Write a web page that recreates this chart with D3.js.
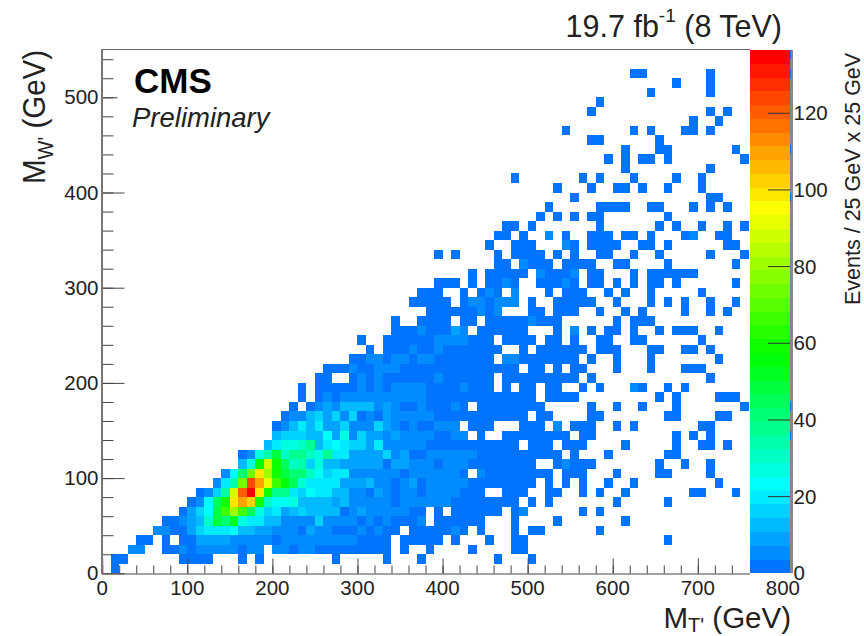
<!DOCTYPE html>
<html><head><meta charset="utf-8">
<script src="https://cdn.jsdelivr.net/npm/d3@7"></script>
<style>
html,body{margin:0;padding:0;background:#fff;overflow:hidden}
svg{display:block}
text{font-family:"Liberation Sans",Arial,sans-serif;fill:#222}
</style></head><body>
<svg id="c" width="864" height="636"></svg>
<script>
// Bin width of both axes, in GeV
const binGeV = 10;
const xMajor = [0,100,200,300,400,500,600,700,800];
const yMajor = [0,100,200,300,400,500];
const zMajor = [0,20,40,60,80,100,120];
const zMax = 136.5;
const zLevels = 38;
const colorStops = ["#0073ff","#00ffff","#00ff00","#ffff00","#ff0000"];
const colorStopValues = [0,21.5,56.5,96,136.5];

// Event counts, row index = M_W' bin; each run = [first M_T' bin, counts...]
const eventRuns = [
/*0*/[[1,2]],
/*1*/[[1,2,3],[9,2,2,2,2],[16,2],[18,2],[27,2],[33,2],[37,2],[46,2],[50,2]],
/*2*/[[3,7,4],[7,2,2,4,2,5,5,4,6,6,2,4,4,0,4,4,2,4,4,2,2],[27,2,2,2,2,2,2,2],[35,2],[38,2],[43,2],[48,2,2]],
/*3*/[[4,2,3],[7,2],[9,3,3,8,9,9,9,6,6,6,6,6,3,4,4,4,4,5,4],[27,4,4,4,2,3,2,2],[35,3,3,2,2,2],[41,2],[45,2],[48,2,2],[66,2]],
/*4*/[[6,5,5,3,3,10,15,18,18,18,22,11,11,9,10,7,5,7,3,8,6,6],[27,3,2,2,6,2,7,2,2],[36,2,2,2,3,2,4,2],[44,2],[48,2],[50,2,2],[58,2]],
/*5*/[[7,3,3,5,8,13,30,50,42,52,28,20,20,13,12,5,5,7,7,16,4],[27,7,4,4,2,4,2,4,2,2,2,4],[39,2,2,2,2,2,2],[48,2],[53,2],[61,2]],
/*6*/[[9,3,9,15,22,48,68,80,68,45,27,17,18,10,13,17,13,13,13],[27,12,3,5,8,4,4,4,4,4,2,2],[39,2],[41,2,3,2,2,3,3],[48,2,5],[56,2],[58,2]],
/*7*/[[10,3,6,22,45,60,100,110,104,58,30,22,22,26,13,12,12,12],[27,8,11,7,7,7,7,7,2,5,5,6,4,4,4,2,2,2,2,2,2,2,2],[50,2],[52,2],[60,2],[66,2]],
/*8*/[[11,3,4,16,35,88,122,135,97,58,38,36,20,15,25,19,19],[27,14,11,6,6,2,9,6,3,7,7,3,4,4,4,4,2,2,2],[47,2,2,2],[52,2,2],[56,2],[58,2],[61,2],[69,2,2],[74,2]],
/*9*/[[13,5,18,33,72,125,108,90,65,55,45,27,20,19,19],[27,20,10,8,8,12,6,6,3,6,9,2,5,4,4,4,4,2,3,2,2,2,2,2,2],[52,2],[54,2],[56,2],[59,2],[62,2],[72,2]],
/*10*/[[14,5,25,42,72,98,82,58,48,42,42,32,22,16],[27,18,18,7,5,5,5,5,5,2,4,4,4,4,4,4,2],[44,4,2,2,2,3,2,2,2,2],[54,2,2,2],[60,2],[65,2,2],[71,2]],
/*11*/[[16,14,27,55,88,58,45,32,35,17,28,14],[27,14,9,9,8,8,8,3,9,9,6,6,6,2,5,5,5,2,2,2,2,3,2,2,2],[53,2,5,2,2,2],[65,2],[68,2],[71,2]],
/*12*/[[16,3,4,27,34,50,30,38,37,32,28,38],[27,20,19,9,9,9,9,15,6,9,2,3,6,6,6,6,5,5],[44,2,2,2,2,2,2,2,2,2,2],[55,2],[59,2],[66,2,2]],
/*13*/[[19,11,21,26,27,30,37,14,20],[27,23,19,16,16,10,18,6,7,5,5,5,3,2,3,2,2,3,2,2,2,2,3],[50,3,2,2],[54,2,2,2],[61,2],[67,2],[70,2,2],[73,2]],
/*14*/[[20,11,17,17,17,13,13,25],[27,9,27,7,17,9,8,6,8,5,4,4,5,2,3,6,6],[44,2],[47,3,3,2,2,2,2,2,2],[56,2,2],[67,2],[69,2],[71,2],[80,2]],
/*15*/[[20,3,5,14,20,13,18,10],[27,8,17,6,6,6,17,8,6,2,5,3,2,6,4,4],[43,2,2,3],[49,2,2,2],[53,6],[55,2,2,2],[60,2],[62,2],[70,2,2]],
/*16*/[[21,3,6,6,13,17,10],[27,16,7,17,3,7,3,8,5,5,5,4,5,3,2,3,2,3,3,3,3,3,3,3],[51,2,2],[57,2,2],[66,2,2],[72,2,2]],
/*17*/[[22,3,0,2,6,9],[27,7,12,12,12,12,5,9,4,3,3,5,2,2,3,6,2],[44,2,2,2,2,3,2,2,2],[57,2],[60,2],[63,2],[67,2],[75,2],[80,2]],
/*18*/[[23,2,0,2,5],[27,2,7,7,4,4,4,4,7,7,7,7,2,3,2,2,2,2,2,3,2,3,2,2,2],[52,2,2,2,2],[65,2],[67,2],[72,2,2,2]],
/*19*/[[23,2,0,2,3],[27,2,2,2,5,3,4,3,6,6,6,6,3,3,2,3,5,3,2,3],[47,2],[49,2,2],[52,2,2],[56,2],[58,2],[62,4,2],[66,2],[68,2]],
/*20*/[[25,2,2],[29,2,4,3,7,3,3,2,3,2,2,6,3,2,3,3,3,2],[47,2,2,2,2,2,2,2,2,2],[57,2],[71,2]],
/*21*/[[26,3,2,3,4,2,2,4,4,6,3,3,3,2,3,2,3,2,3,2,2,2,2,3],[50,3,2],[53,2],[55,2,2],[60,2],[64,2],[68,2,2,2]],
/*22*/[[29,2,3,4,4,3,4,4,3,4,5,2,2,2,2,2,2,3],[47,4,4,2,2,2,2,2,2,2],[57,2],[60,2],[64,2],[72,2]],
/*23*/[[31,2],[33,2,2,3,6,3,2,4,3,2,2,3,2,2,3],[49,2],[51,2,2,2,2,2,2],[58,2,2,2],[64,2,2],[68,2,2],[71,2]],
/*24*/[[30,2],[33,2,2,2,2,2,2,4,4,4,4,2,2,2],[47,2,2,2,2],[52,2,3],[55,2],[58,2,2],[62,2,2],[70,2]],
/*25*/[[34,2,2,2,5,2,2,2,8,5],[44,2,2,2,2,3,2],[53,2],[55,5],[57,2],[59,2,2],[62,2],[65,2],[67,2,2,2],[72,2]],
/*26*/[[34,2],[37,2,2,2,2],[42,2,2],[45,2,2,2,2,2,6,2,2,2],[60,2],[62,2,2,2]],
/*27*/[[38,2,2,2,3,2,2,5,2,5],[50,3,2],[53,2,2,2],[58,2],[61,2],[63,2],[68,2],[71,2],[73,2]],
/*28*/[[36,2,2,2,2,2],[42,2,5,5,2,6,6,5],[50,2],[53,2,2,2,2,2],[60,2],[64,2],[66,2],[68,2],[71,2],[74,2]],
/*29*/[[37,2,2,2],[42,2],[44,2,5,2],[48,5],[52,2],[54,2,2,2],[59,2],[61,2],[64,2],[70,2]],
/*30*/[[39,2,2,2],[43,2],[45,2,2,5,2],[51,2,2,2,5,2],[57,2,2],[60,2],[62,2],[64,2,2],[67,2],[74,2]],
/*31*/[[43,2],[45,2,2,2,2,2],[51,5,2,2,2,6],[57,2,2],[62,2],[64,2,2,2,2,2,2]],
/*32*/[[46,2,2],[49,5,2,2,2],[54,2,2,2,2],[60,2,2],[66,2],[74,2]],
/*33*/[[39,2],[41,2],[46,2],[48,2,2,2,2],[53,2],[55,2],[58,2,2],[62,2],[65,2],[71,2],[75,2]],
/*34*/[[45,2],[48,2,2,2],[54,5,2],[57,2,2,2,2],[63,2,2],[66,2],[73,2,2]],
/*35*/[[46,2,2],[49,2],[52,6],[54,2],[57,2,2,2],[61,2,2],[64,2],[68,2,5],[72,2,2]],
/*36*/[[47,2,2],[50,2],[58,2],[65,2],[67,2],[70,2],[73,2],[75,2]],
/*37*/[[51,2],[53,2],[55,2],[57,2,2],[66,2]],
/*38*/[[52,2],[58,2,2,2,2],[64,2,2],[69,2],[71,2],[73,2]],
/*39*/[[55,2],[71,2,2],[80,2]],
/*40*/[[53,2],[57,2],[60,2,2],[63,2],[66,2],[70,2]],
/*41*/[[48,2],[56,2],[58,2],[62,2],[67,2],[70,2]],
/*42*/[[61,2],[71,2]],
/*43*/[[59,2],[61,2],[63,2,2],[66,2],[75,2]],
/*44*/[[61,2],[65,2,2],[74,2],[80,2]],
/*45*/[[57,2,2],[65,2]],
/*46*/[[54,2],[62,2],[64,2],[68,2,2],[71,2]],
/*47*/[[69,2],[72,2]],
/*48*/[[57,2],[71,2],[73,2]],
/*49*/[[58,2]],
/*50*/[[64,2],[71,2]],
/*51*/[[67,2],[71,2]],
/*52*/[[62,2,2],[71,2],[80,2]],
/*53*/[],
/*54*/[[80,2]]
];

const svg = d3.select("#c");
const x = d3.scaleLinear().domain([0,800]).range([102.2,782.9]);
const y = d3.scaleLinear().domain([0,550]).range([573.3,49.7]);
const z = d3.scaleLinear().domain([0,zMax]).range([573.3,50]);
const ramp = d3.scaleLinear().domain(colorStopValues).range(colorStops).interpolate(d3.interpolateRgb);
const bandOf = v => Math.min(zLevels-1, Math.floor(v/zMax*zLevels));
const bandColor = i => ramp(i/(zLevels-1)*zMax);

const cells = [];
eventRuns.forEach((runs,j)=>runs.forEach(r=>r.slice(1).forEach((v,k)=>{
  if(v>0) cells.push({i:r[0]+k,j,v});
})));

// palette axis bar (beneath the overflow cells)
svg.append("line").attr("x1",791.5).attr("x2",791.5).attr("y1",z(zMax)).attr("y2",z(0))
  .attr("stroke","#888").attr("stroke-width",3);

// heat map
svg.append("g").attr("shape-rendering","crispEdges").selectAll("rect").data(cells).join("rect")
  .attr("x",d=>x(d.i*binGeV)).attr("y",d=>y((d.j+1)*binGeV))
  .attr("width",x(binGeV)-x(0)).attr("height",y(0)-y(binGeV))
  .attr("fill",d=>bandColor(bandOf(d.v)));

// frame top and axes
const axisCol="#444";
svg.append("line").attr("x1",102).attr("x2",750).attr("y1",49.5).attr("y2",49.5).attr("stroke","#666");

const minorTicks = (a,b,step)=>d3.range(a,b+0.01,step);

const gx = svg.append("g").attr("transform","translate(0,573.5)");
gx.call(d3.axisTop(x).tickValues(minorTicks(0,740,20)).tickSize(8).tickFormat(""));
gx.append("g").call(d3.axisTop(x).tickValues(xMajor.filter(d=>d<750)).tickSize(15).tickFormat(""));
gx.selectAll("path").remove();
gx.selectAll("line").attr("stroke",axisCol);
svg.append("line").attr("x1",102).attr("x2",750).attr("y1",574).attr("y2",574).attr("stroke","#444").attr("stroke-width",1);

const gy = svg.append("g").attr("transform","translate(102.5,0)");
gy.call(d3.axisRight(y).tickValues(minorTicks(20,540,20)).tickSize(11).tickFormat(""));
gy.append("g").call(d3.axisRight(y).tickValues(yMajor.filter(d=>d!==500)).tickSize(22).tickFormat(""));
gy.append("g").call(d3.axisRight(y).tickValues([500]).tickSize(15).tickFormat(""));
gy.selectAll("path").remove();
gy.selectAll("line").attr("stroke",axisCol);
svg.append("line").attr("x1",102).attr("x2",102).attr("y1",49).attr("y2",574).attr("stroke","#777").attr("stroke-width",2);

// tick labels
const tickFont = 20.5;
svg.append("g").selectAll("text").data(xMajor).join("text")
  .attr("x",d=>x(d)).attr("y",595).attr("text-anchor","middle").attr("font-size",tickFont).text(d=>d);
svg.append("g").selectAll("text").data(yMajor).join("text")
  .attr("x",98.5).attr("y",d=>y(d)+7).attr("text-anchor","end").attr("font-size",tickFont).text(d=>d);

// palette
svg.append("g").attr("shape-rendering","crispEdges").selectAll("rect").data(d3.range(zLevels)).join("rect")
  .attr("x",750).attr("width",40)
  .attr("y",i=>z((i+1)/zLevels*zMax)).attr("height",z(0)-z(zMax/zLevels))
  .attr("fill",bandColor);
svg.append("g").selectAll("line").data(zMajor.filter(d=>d>0)).join("line")
  .attr("x1",768).attr("x2",790).attr("y1",d=>z(d)).attr("y2",d=>z(d)).attr("stroke","#333");
svg.append("g").selectAll("text").data(zMajor).join("text")
  .attr("x",793.5).attr("y",d=>z(d)+7).attr("font-size",tickFont).text(d=>d);

// titles
const titleFont = 29.5, subFont = 20;
const tx = svg.append("text").attr("x",791).attr("y",628).attr("text-anchor","end").attr("font-size",titleFont);
tx.append("tspan").text("M");
tx.append("tspan").attr("dy",4).attr("font-size",subFont).text("T'");
tx.append("tspan").attr("dy",-4).text(" (GeV)");

const ty = svg.append("text").attr("transform","translate(44.5,184) rotate(-90) scale(1,1.08)").attr("font-size",titleFont);
ty.append("tspan").text("M");
ty.append("tspan").attr("dy",8).attr("font-size",subFont).text("W'");
ty.append("tspan").attr("dy",-8).text(" (GeV)");

const tt = svg.append("text").attr("x",782).attr("y",37).attr("text-anchor","end").attr("font-size",30.5);
tt.append("tspan").text("19.7 fb");
tt.append("tspan").attr("dy",-15).attr("font-size",19).text("-1");
tt.append("tspan").attr("dy",15).text(" (8 TeV)");

svg.append("text").attr("x",134).attr("y",93).attr("font-size",35).attr("font-weight","bold").style("fill","#000").text("CMS");
svg.append("text").attr("x",132).attr("y",127).attr("font-size",27.5).attr("font-style","italic").text("Preliminary");
svg.append("text").attr("transform","translate(860,305) rotate(-90)").attr("font-size",21.5).text("Events / 25 GeV x 25 GeV");
</script>
</body></html>
